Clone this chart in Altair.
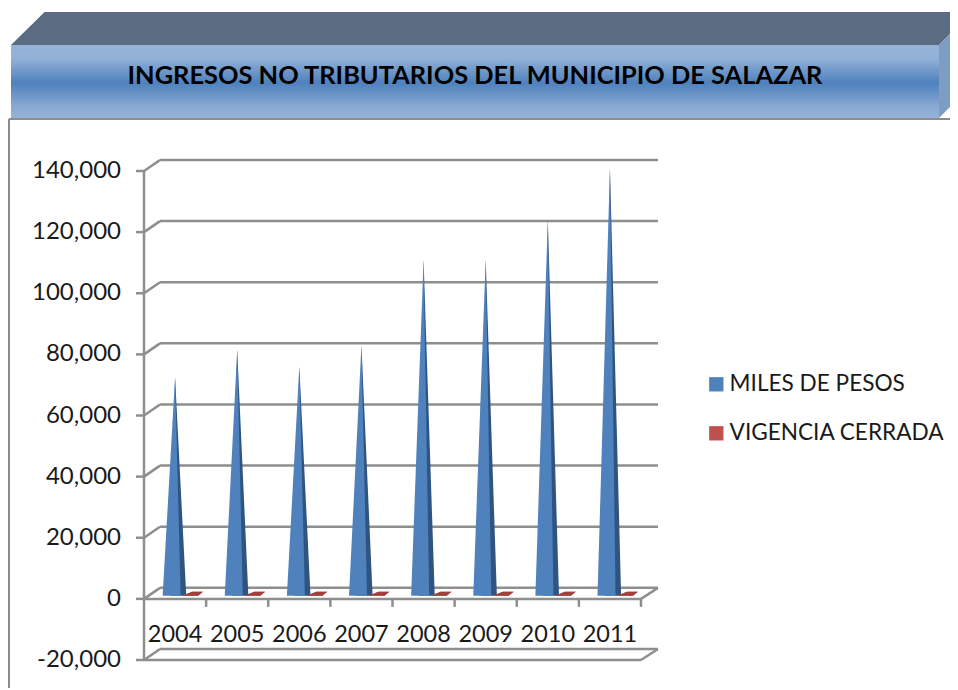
import altair as alt
import pandas as pd

TITLE = "INGRESOS NO TRIBUTARIOS DEL MUNICIPIO DE SALAZAR"
YEARS = [2004, 2005, 2006, 2007, 2008, 2009, 2010, 2011]
MILES_DE_PESOS = [71500, 80500, 75000, 82000, 110000, 110000, 123000, 140000]
VIGENCIA_CERRADA = [0, 0, 0, 0, 0, 0, 0, 0]
Y_TICKS = [-20000, 0, 20000, 40000, 60000, 80000, 100000, 120000, 140000]
SERIES = ["MILES DE PESOS", "VIGENCIA CERRADA"]
COLORS = ["#4f81bd", "#c0504d"]

# layout: group origin sits at page (144, 171)
OX, OY = 144, 171
W, H = 497, 489
def px(v): return v - OX
def py(v): return v - OY
def ux(v): return (v - OX) / W * 8
def uy(v): return (OY + H - v) / H * 160000 - 20000

GRID = "#8e8e8e"
DEPTH = 3600      # back wall offset in axis units
BASE = 1000       # columns stand mid-way across the floor
FONT = "Lato"
TEXT = "#1a1a1a"

x_scale = alt.Scale(domain=[0, 8], nice=False, zero=False)
y_scale = alt.Scale(domain=[-20000, 140000], nice=False, zero=False)

grid_df = pd.DataFrame({"v": Y_TICKS, "label": [f"{v:,}" for v in Y_TICKS]})
grid_df["back"] = grid_df["v"] + DEPTH

tick_df = pd.DataFrame({"e": list(range(1, 9)), "y0": 0, "y1": -2620})
year_df = pd.DataFrame({"c": [i + 0.5 for i in range(len(YEARS))], "year": [str(y) for y in YEARS]})

front_rows, side_rows, red_rows = [], [], []
for i, (yr, a, b) in enumerate(zip(YEARS, MILES_DE_PESOS, VIGENCIA_CERRADA)):
    c = i + 0.5
    for dx, yy in [(-0.20, BASE), (0, BASE + a), (0.09, BASE)]:
        front_rows.append({"anio": yr, "serie": SERIES[0], "x": c + dx, "y": yy, "y2": BASE})
    for dx, yy in [(-0.08, BASE), (0, BASE + a), (0.18, BASE)]:
        side_rows.append({"anio": yr, "x": c + dx, "y": yy, "y2": BASE})
    top = BASE + 1300 + b
    low = BASE + b
    for dx, yy, y2 in [(0.115, low, low), (0.275, top, low), (0.37, top, low), (0.45, top, top)]:
        red_rows.append({"anio": yr, "serie": SERIES[1], "x": c + dx, "y": yy, "y2": y2})
front_df, side_df, red_df = map(pd.DataFrame, (front_rows, side_rows, red_rows))

# ---- banner (decoration)
top_face = pd.DataFrame({"x": [ux(11), ux(44.6), ux(939), ux(958)],
                         "y": [uy(45), uy(12), uy(12), uy(12)],
                         "y2": [uy(45), uy(45), uy(45), uy(26)]})
right_face = pd.DataFrame({"x": [ux(939), ux(958)],
                           "y": [uy(45), uy(26)],
                           "y2": [uy(118), uy(99)]})

def face(df, color):
    return alt.Chart(df).mark_area(color=color, orient="vertical").encode(
        x=alt.X("x:Q", scale=x_scale, axis=None),
        y=alt.Y("y:Q", scale=y_scale, axis=None, stack=None),
        y2="y2:Q",
    )

banner_top = face(top_face, "#5a6b82")
banner_right = face(right_face, "#7f9cc2")

one = pd.DataFrame({"k": [0]})
banner_front = alt.Chart(one).mark_rect(
    color=alt.Gradient(
        gradient="linear", x1=0, x2=0, y1=0, y2=1,
        stops=[
            alt.GradientStop(color="#95b3d7", offset=0),
            alt.GradientStop(color="#93b1d6", offset=0.18),
            alt.GradientStop(color="#4f81bd", offset=0.52),
            alt.GradientStop(color="#8aaad3", offset=0.85),
            alt.GradientStop(color="#95b3d7", offset=1),
        ],
    )
).encode(x=alt.value(px(11)), x2=alt.value(px(939)), y=alt.value(py(45)), y2=alt.value(py(118)))

title_mark = alt.Chart(one).mark_text(
    text=TITLE, font=FONT, fontSize=25.4, fontWeight="bold", color="#000000",
    align="center", baseline="alphabetic",
).encode(x=alt.value(px(475)), y=alt.value(py(84)))

frame_top = alt.Chart(one).mark_rule(color="#8c8c8c", strokeWidth=2).encode(
    x=alt.value(px(9)), x2=alt.value(px(958)), y=alt.value(py(119)))
frame_left = alt.Chart(one).mark_rule(color="#8c8c8c", strokeWidth=2).encode(
    x=alt.value(px(9)), y=alt.value(py(119)), y2=alt.value(py(690)))

# ---- axis pieces and walls
y_line = alt.Chart(one).mark_rule(color=GRID, strokeWidth=2.5).encode(
    x=alt.value(0), y=alt.value(0), y2=alt.value(H))
y_ticks = alt.Chart(grid_df).mark_rule(color=GRID, strokeWidth=2.5).encode(
    x=alt.value(-8), x2=alt.value(0),
    y=alt.Y("v:Q", scale=y_scale, axis=None),
)
y_labels = alt.Chart(grid_df).mark_text(
    font=FONT, fontSize=24, color=TEXT, align="right", baseline="middle"
).encode(
    x=alt.value(px(121)),
    y=alt.Y("v:Q", scale=y_scale, axis=None),
    text="label:N",
)
x_labels = alt.Chart(year_df).mark_text(
    font=FONT, fontSize=23.5, color=TEXT, align="center", baseline="middle"
).encode(
    x=alt.X("c:Q", scale=x_scale, axis=None),
    y=alt.value(py(635)),
    text="year:N",
)

back_grid = alt.Chart(grid_df).mark_rule(color=GRID, strokeWidth=2.5).encode(
    x=alt.value(16), x2=alt.value(514),
    y=alt.Y("back:Q", scale=y_scale, axis=None),
)
left_diag = alt.Chart(grid_df).mark_rule(color=GRID, strokeWidth=2.5).encode(
    x=alt.value(0), x2=alt.value(16),
    y=alt.Y("v:Q", scale=y_scale, axis=None),
    y2="back:Q",
)
floor_df = grid_df[grid_df["v"] <= 0]
floor_front = alt.Chart(floor_df).mark_rule(color=GRID, strokeWidth=2.5).encode(
    x=alt.value(0), x2=alt.value(W),
    y=alt.Y("v:Q", scale=y_scale, axis=None),
)
right_diag = alt.Chart(floor_df).mark_rule(color=GRID, strokeWidth=2.5).encode(
    x=alt.value(W), x2=alt.value(514),
    y=alt.Y("v:Q", scale=y_scale, axis=None),
    y2="back:Q",
)
x_ticks = alt.Chart(tick_df).mark_rule(color=GRID, strokeWidth=2.5).encode(
    x=alt.X("e:Q", scale=x_scale, axis=None),
    y=alt.Y("y0:Q", scale=y_scale, axis=None),
    y2="y1:Q",
)

# ---- data marks
color = alt.Color("serie:N", scale=alt.Scale(domain=SERIES, range=COLORS),
                  legend=alt.Legend(title=None, orient="none", legendX=px(705), legendY=py(373),
                                    symbolType="square", symbolSize=205, symbolStrokeWidth=0,
                                    symbolOpacity=1, labelFont=FONT, labelFontSize=22.6,
                                    labelColor=TEXT, rowPadding=26, labelOffset=2,
                                    labelLimit=300))

side = alt.Chart(side_df).mark_area(color="#2f5480", orient="vertical").encode(
    x=alt.X("x:Q", scale=x_scale, axis=None),
    y=alt.Y("y:Q", scale=y_scale, axis=None, stack=None),
    y2="y2:Q",
    detail="anio:N",
)
front = alt.Chart(front_df).mark_area(orient="vertical").encode(
    x=alt.X("x:Q", scale=x_scale, axis=None),
    y=alt.Y("y:Q", scale=y_scale, axis=None, stack=None),
    y2="y2:Q",
    detail="anio:N",
    color=color,
)
red = alt.Chart(red_df).mark_area(orient="vertical").encode(
    x=alt.X("x:Q", scale=x_scale, axis=None),
    y=alt.Y("y:Q", scale=y_scale, axis=None, stack=None),
    y2="y2:Q",
    detail="anio:N",
    color=color,
)
red_top = alt.Chart(red_df).mark_area(orient="vertical", color="#a23f3c").encode(
    x=alt.X("x:Q", scale=x_scale, axis=None),
    y=alt.Y("y:Q", scale=y_scale, axis=None, stack=None),
    y2="y2:Q",
    detail="anio:N",
)

TOTAL_W = 942
chart = alt.layer(
    banner_top, banner_right, banner_front, title_mark, frame_top, frame_left,
    back_grid, left_diag, floor_front, right_diag, x_ticks, y_line, y_ticks,
    side, front, red, red_top, y_labels, x_labels,
).properties(
    width=W, height=H,
    background="white",
    padding={"left": OX - 8, "top": OY - 8, "right": TOTAL_W - W - (OX - 8), "bottom": 28},
    autosize=alt.AutoSizeParams(type="none"),
).configure_view(stroke=None)

chart.save("out.html", embed_options={"renderer": "svg", "actions": False})
